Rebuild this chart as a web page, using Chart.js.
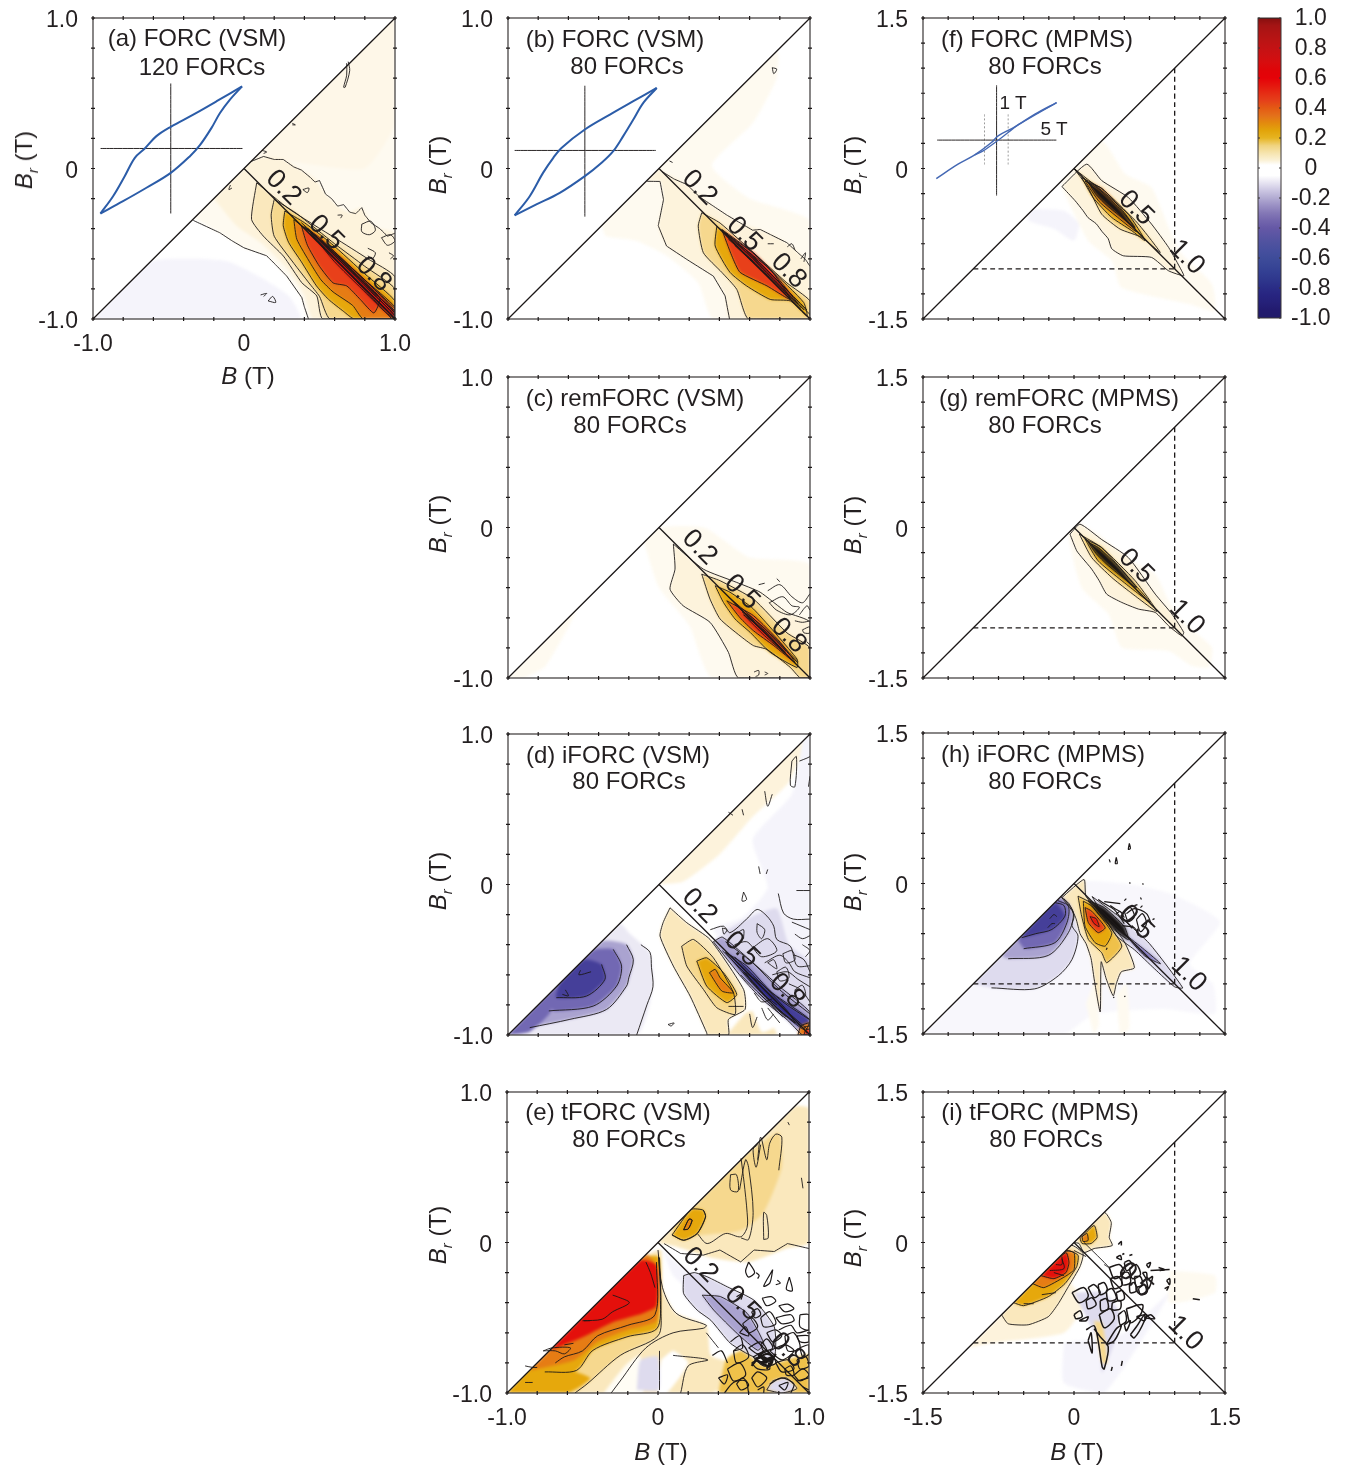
<!DOCTYPE html>
<html>
<head>
<meta charset="utf-8">
<title>FORC diagrams</title>
<script src="https://cdn.jsdelivr.net/npm/chart.js@4"></script>
<style>
  html, body { margin: 0; background: #fff; }
  #page { position: relative; width: 1345px; height: 1465px; overflow: hidden; font-family: "Liberation Sans", Arial, sans-serif; color: #231f20; }
  canvas { position: absolute; }
  canvas.soft { filter: blur(1.6px); clip-path: inset(18px 30px 50px 70px); }
  .txt { position: absolute; white-space: nowrap; transform: translate(-50%, -50%); font-size: 24px; line-height: 1; }
  .rot { transform: translate(-50%, -50%) rotate(-90deg); }
  .rot sub { font-size: 15px; line-height: 0; }
  .small { font-size: 19px; }
</style>
</head>
<body>
<div id="page"></div>
<script>
// colours
const cream0 = '#fefaf0', cream = '#fdf3dc', sand = '#fae8bd', wheat = '#f6d88e', amber = '#efc14a', gold = '#e6a80c';
const orange = '#e67c14', vermil = '#e8401a', red = '#e4100c', crimson = '#b81414', ink = '#161212';
const lav00 = '#f8f7fc', lav0 = '#f5f4fb', lavPale = '#ebe9f4', lav1 = '#dedbee', lav2 = '#aaa3d0', lav3 = '#7268b3', indigo = '#453f99', navy = '#2a2680';

// tick labels
const vsmLabels = { '-1': '-1.0', '0': '0', '1': '1.0' };
const mpmsLabels = { '-1.5': '-1.5', '0': '0', '1.5': '1.5' };
const barLabels = ['-1.0', '-0.8', '-0.6', '-0.4', '-0.2', '0', '0.2', '0.4', '0.6', '0.8', '1.0'];

// colour bar
const barStops = [-1, -0.95, -0.9, -0.85, -0.8, -0.75, -0.7, -0.65, -0.6, -0.55, -0.5, -0.45, -0.4, -0.35, -0.3, -0.25, -0.2, -0.15, -0.1, -0.05, 0.02, 0.05, 0.1, 0.15, 0.2, 0.25, 0.3, 0.35, 0.4, 0.45, 0.5, 0.55, 0.6, 0.65, 0.7, 0.75, 0.8, 0.85, 0.9, 0.95, 0.99, 1];
const barColors = ['#201a6a', '#221a6e', '#252078', '#272480', '#2a2c86', '#2e368c', '#323e92', '#384696', '#3e4c9a', '#464f9e', '#4f529f', '#5a55a3', '#6558a6', '#7366ad', '#8478b6', '#9a90c4', '#b2abd2', '#cbc6e2', '#e6e3f1', '#ffffff', '#ffffff', '#fbf2d8', '#f6e4ae', '#f0d37e', '#e6b421', '#e2a40a', '#e38a0e', '#e4701a', '#e45a14', '#e5401a', '#e52c14', '#e5160e', '#e50208', '#e00408', '#d80c0e', '#cd1012', '#c41214', '#ba1414', '#b01414', '#a41414', '#8c1010', '#4a0a0a'];

// panel a
const aLoopUp = [[-0.951, -0.299], [-0.867, -0.184], [-0.79, -0.051], [-0.723, 0.071], [-0.657, 0.133], [-0.58, 0.215], [-0.485, 0.277], [-0.336, 0.358], [-0.181, 0.447], [-0.013, 0.546]];
const aLoopDown = [[-0.013, 0.546], [-0.093, 0.458], [-0.159, 0.369], [-0.215, 0.27], [-0.292, 0.155], [-0.358, 0.082], [-0.485, -0.029], [-0.646, -0.128], [-0.801, -0.217], [-0.951, -0.299]];
const aCrossH = [[-0.95, 0.133], [-0.01, 0.133]];
const aCrossV = [[-0.485, -0.299], [-0.485, 0.565]];
const aPale = [[-0.33, -0.33], [0, 0], [1, 1], [1, -1], [0.43, -1], [0.38, -0.86], [0.28, -0.72], [0.15, -0.58], [0, -0.53], [-0.16, -0.43]];
const aVeil = [[0.1, 0.1], [0.6, 0.6], [1, 1], [1, 0.3], [0.8, 0.0], [0.3, 0.05]];
const aLav = [[-1, -1], [0.37, -1], [0.3, -0.85], [0.12, -0.73], [-0.1, -0.62], [-0.3, -0.6], [-0.62, -0.62]];
const aWarm = [[-0.2, -0.2], [0, 0], [0.03, 0.04], [0.13, 0.08], [0.26, 0.06], [0.38, -0.01], [0.47, -0.07], [0.54, -0.17], [0.62, -0.25], [0.7, -0.29], [0.78, -0.26], [0.84, -0.36], [0.9, -0.4], [1, -0.43], [1, -1], [0.46, -1], [0.4, -0.84], [0.28, -0.66], [0.12, -0.5], [-0.05, -0.38]];
const aTopLine = [[0.03, 0.04], [0.13, 0.08], [0.2, 0.06], [0.26, 0.06], [0.33, 0.01], [0.38, -0.01], [0.44, -0.06], [0.47, -0.09], [0.5, -0.08], [0.54, -0.17], [0.58, -0.2], [0.62, -0.25], [0.66, -0.24], [0.7, -0.29], [0.74, -0.3], [0.78, -0.26], [0.8, -0.31], [0.84, -0.36], [0.9, -0.4], [0.95, -0.45], [1, -0.43]];
const aLowLine = [[-0.336, -0.345], [-0.16, -0.427], [-0.08, -0.48], [0, -0.527], [0.15, -0.58], [0.21, -0.64], [0.283, -0.715], [0.383, -0.858], [0.4, -0.92], [0.427, -1]];
const aL2 = [[0.084, -0.095], [0.05, -0.338], [0.128, -0.449], [0.261, -0.582], [0.383, -0.759], [0.482, -0.847], [0.522, -1], [1, -1], [1, -0.72], [0.82, -0.6], [0.6, -0.46], [0.3, -0.27]];
const aL3 = [[0.2, -0.205], [0.18, -0.31], [0.2, -0.45], [0.33, -0.63], [0.43, -0.76], [0.5, -0.85], [0.57, -1], [1, -1], [1, -0.8], [0.8, -0.65], [0.6, -0.5], [0.35, -0.3]];
const aL4 = [[0.27, -0.283], [0.26, -0.38], [0.295, -0.49], [0.38, -0.62], [0.48, -0.78], [0.56, -0.87], [0.66, -0.95], [0.73, -1], [1, -1], [1, -0.88], [0.8, -0.7], [0.58, -0.5], [0.4, -0.36]];
const aL5 = [[0.33, -0.34], [0.35, -0.47], [0.44, -0.63], [0.51, -0.74], [0.59, -0.82], [0.72, -0.91], [0.79, -1], [1, -1], [1, -0.92], [0.8, -0.74], [0.55, -0.51]];
const aL6 = [[0.38, -0.38], [0.42, -0.51], [0.5, -0.65], [0.59, -0.76], [0.68, -0.78], [0.77, -0.87], [0.86, -0.96], [0.9, -0.86], [0.7, -0.66], [0.5, -0.47]];
const aCore1 = [[0.42, -0.4], [0.6, -0.62], [0.78, -0.8], [0.92, -0.94], [1, -1], [1, -0.95], [0.85, -0.79], [0.65, -0.6], [0.5, -0.46]];
const aRidge = [[[0.38, -0.36], [0.62, -0.58], [0.82, -0.76], [1, -0.93]], [[0.4, -0.385], [0.62, -0.6], [0.82, -0.785], [1, -0.95]], [[0.42, -0.395], [0.64, -0.62], [0.84, -0.82], [1, -0.97]], [[0.44, -0.43], [0.64, -0.635], [0.84, -0.835], [1, -0.99]], [[0.44, -0.44], [0.66, -0.66], [0.82, -0.83], [0.98, -1]], [[0.5, -0.475], [0.66, -0.625], [0.84, -0.8], [1, -0.96]], [[0.52, -0.49], [0.68, -0.65], [0.86, -0.83], [1, -0.98]], [[0.6, -0.565], [0.7, -0.665], [0.88, -0.85]]];
const aNoise = [
  [[0.69, 0.71], [0.7, 0.65], [0.67, 0.54], [0.66, 0.54], [0.68, 0.62], [0.68, 0.7]],
  [[0.32, 0.3], [0.34, 0.29], [0.32, 0.29]], [[0.12, 0.12], [0.15, 0.11], [0.13, 0.1]],
  [[0.39, -0.14], [0.43, -0.13], [0.42, -0.16], [0.39, -0.14]], [[0.62, -0.31], [0.65, -0.31], [0.64, -0.33]],
  [[0.78, -0.37], [0.84, -0.35], [0.87, -0.41], [0.83, -0.44], [0.78, -0.42], [0.78, -0.37]],
  [[0.91, -0.46], [0.97, -0.44], [1, -0.48], [0.95, -0.51], [0.91, -0.46]],
  [[0.82, -0.53], [0.87, -0.56], [0.85, -0.6], [0.82, -0.58]], [[0.96, -0.56], [0.99, -0.58], [0.97, -0.6]],
  [[0.11, -0.84], [0.15, -0.83], [0.13, -0.85]], [[0.16, -0.88], [0.19, -0.85], [0.21, -0.89], [0.16, -0.88]],
  [[-0.08, -0.13], [-0.1, -0.14], [-0.09, -0.11]]
];
const aMarks = [[0.26, -0.128, '0.2'], [0.544, -0.427, '0.5'], [0.858, -0.704, '0.8']];

// panel b
const bLoopUp = [[-0.956, -0.312], [-0.856, -0.184], [-0.768, -0.029], [-0.7, 0.071], [-0.646, 0.137], [-0.491, 0.259], [-0.325, 0.358], [-0.17, 0.447], [-0.015, 0.535]];
const bLoopDown = [[-0.015, 0.535], [-0.104, 0.436], [-0.17, 0.325], [-0.237, 0.215], [-0.303, 0.115], [-0.38, 0.038], [-0.491, -0.051], [-0.657, -0.162], [-0.812, -0.239], [-0.956, -0.312]];
const bCrossH = [[-0.956, 0.12], [-0.02, 0.12]];
const bCrossV = [[-0.491, -0.32], [-0.491, 0.55]];
const bPale = [[-0.38, -0.38], [0, 0], [0.78, 0.78], [0.78, 0.6], [0.62, 0.3], [0.35, 0.02], [0.6, -0.2], [1, -0.35], [1, -1], [0.36, -1], [0.26, -0.76], [0.05, -0.58], [-0.15, -0.48], [-0.35, -0.45]];
const bWarm = [[-0.08, -0.08], [0, 0], [0.02, -0.02], [0.184, -0.106], [0.36, -0.25], [0.54, -0.363], [0.67, -0.405], [0.847, -0.493], [0.97, -0.604], [1, -0.65], [1, -1], [0.467, -1], [0.438, -0.847], [0.36, -0.715], [0.184, -0.604], [0.05, -0.515], [-0.005, -0.38], [0.03, -0.207], [0.007, -0.086]];
const bTopLine = [[0.02, -0.02], [0.1, -0.07], [0.184, -0.106], [0.27, -0.19], [0.36, -0.25], [0.45, -0.31], [0.54, -0.363], [0.62, -0.41], [0.67, -0.405], [0.74, -0.44], [0.847, -0.493], [0.92, -0.56], [0.97, -0.604], [1, -0.65]];
const bLowLine = [[-0.08, -0.085], [0.007, -0.086], [0.03, -0.207], [-0.005, -0.38], [0.05, -0.515], [0.184, -0.604], [0.36, -0.715], [0.438, -0.847], [0.467, -1]];
const bL2 = [[0.283, -0.294], [0.26, -0.383], [0.294, -0.56], [0.416, -0.69], [0.515, -0.803], [0.593, -1], [1, -1], [1, -0.88], [0.847, -0.76], [0.626, -0.56], [0.405, -0.363]];
const bL3 = [[0.383, -0.383], [0.372, -0.515], [0.47, -0.69], [0.58, -0.78], [0.737, -0.87], [0.87, -0.88], [0.98, -0.98], [0.958, -0.89], [0.737, -0.67], [0.515, -0.493]];
const bL4 = [[0.416, -0.405], [0.482, -0.58], [0.537, -0.69], [0.715, -0.78], [0.87, -0.87], [0.76, -0.7], [0.626, -0.56]];
const bCore = [[0.44, -0.43], [0.6, -0.6], [0.75, -0.74], [0.92, -0.9], [0.78, -0.72], [0.62, -0.56]];
const bRidge = [[[0.42, -0.41], [0.62, -0.58], [0.8, -0.76], [0.98, -0.94]], [[0.44, -0.43], [0.62, -0.6], [0.8, -0.78], [0.96, -0.94]], [[0.46, -0.47], [0.64, -0.63], [0.82, -0.81], [0.94, -0.93]], [[0.5, -0.51], [0.66, -0.66], [0.84, -0.84], [1, -1]], [[0.52, -0.5], [0.7, -0.67], [0.86, -0.83], [1, -0.97]], [[0.58, -0.55], [0.72, -0.68], [0.86, -0.82]]];
const bNoise = [
  [[0.75, 0.67], [0.78, 0.66], [0.76, 0.63], [0.75, 0.67]], [[0.07, 0.05], [0.09, 0.04]],
  [[0.72, -0.5], [0.76, -0.5]], [[0.85, -0.52], [0.88, -0.5], [0.9, -0.54]], [[0.94, -0.6], [0.97, -0.56], [0.96, -0.62]]
];
const bMarks = [[0.268, -0.128, '0.2'], [0.564, -0.438, '0.5'], [0.858, -0.681, '0.8']];

// panel c
const cPale = [[-0.1, -0.1], [0, 0], [0.3, 0.0], [0.6, -0.2], [1, -0.25], [1, -1], [0.35, -1], [0.2, -0.65], [0, -0.4]];
const cSoft = [[-1, -1], [-0.55, -0.55], [-0.75, -0.92], [-0.9, -1]];
const cWarm = [[0.095, -0.11], [0.106, -0.277], [0.073, -0.41], [0.16, -0.52], [0.338, -0.63], [0.46, -0.83], [0.527, -1], [1, -1], [1, -0.63], [0.847, -0.564], [0.67, -0.43], [0.515, -0.365], [0.294, -0.277]];
const cL2 = [[0.283, -0.31], [0.338, -0.476], [0.405, -0.608], [0.537, -0.72], [0.626, -0.785], [0.715, -0.81], [0.87, -0.93], [0.936, -1], [1, -1], [1, -0.8], [0.847, -0.7], [0.626, -0.476], [0.405, -0.354]];
const cL3 = [[0.372, -0.387], [0.427, -0.498], [0.504, -0.608], [0.604, -0.697], [0.737, -0.83], [0.914, -0.93], [0.914, -0.874], [0.626, -0.542], [0.47, -0.43]];
const cL4 = [[0.449, -0.487], [0.537, -0.6], [0.626, -0.686], [0.76, -0.785], [0.9, -0.896], [0.803, -0.763], [0.626, -0.586]];
const cCore = [[0.56, -0.58], [0.7, -0.72], [0.84, -0.84], [0.7, -0.69]];
const cRidge = [[[0.46, -0.46], [0.62, -0.6], [0.8, -0.77], [0.92, -0.89]], [[0.5, -0.51], [0.64, -0.63], [0.82, -0.8], [0.92, -0.9]], [[0.55, -0.56], [0.68, -0.68], [0.84, -0.83]], [[0.58, -0.57], [0.7, -0.67], [0.84, -0.81]]];
const cNoise = [
  [[0.66, -0.38], [0.7, -0.37]], [[0.78, -0.34], [0.8, -0.36]], [[0.72, -0.42], [0.8, -0.38], [0.88, -0.46], [0.95, -0.5], [1, -0.44]],
  [[0.73, -0.5], [0.82, -0.46], [0.88, -0.52], [0.93, -0.53], [0.87, -0.58], [0.78, -0.55], [0.73, -0.5]],
  [[0.93, -0.58], [0.98, -0.52], [1, -0.55]], [[0.9, -0.62], [0.95, -0.63], [1, -0.62]], [[0.95, -0.68], [1, -0.66], [1, -0.7], [0.96, -0.7], [0.95, -0.68]],
  [[0.63, -0.96], [0.66, -0.95], [0.66, -0.98], [0.64, -0.99]], [[0.7, -0.96], [0.72, -0.97], [0.7, -0.98]], [[0.98, -0.76], [1, -0.78]]
];
const cMarks = [[0.268, -0.133, '0.2'], [0.549, -0.431, '0.5'], [0.858, -0.719, '0.8']];

// panel d
const dLav = [[-1, -1], [-0.26, -0.26], [-0.2, -0.32], [-0.06, -0.453], [-0.038, -0.675], [-0.148, -1]];
const dV1 = [[-1, -1], [-0.38, -0.38], [-0.215, -0.398], [-0.17, -0.498], [-0.215, -0.675], [-0.347, -0.83], [-0.59, -0.896], [-0.856, -0.951]];
const dV2 = [[-0.74, -0.74], [-0.44, -0.44], [-0.303, -0.431], [-0.248, -0.542], [-0.281, -0.675], [-0.436, -0.808], [-0.7, -0.84]];
const dV3 = [[-0.66, -0.66], [-0.5, -0.5], [-0.38, -0.531], [-0.358, -0.63], [-0.48, -0.741], [-0.68, -0.752]];
const dCorner = [[-1, -1], [-0.7, -0.7], [-0.72, -0.85], [-0.86, -0.98]];
const dUp = [[0, 0], [0.98, 0.98], [0.86, 0.68], [0.62, 0.45], [0.4, 0.2], [0.16, 0.02]];
const dRight = [[0.95, 0.95], [1, 1], [1, -0.85], [0.85, -0.72], [0.6, -0.55], [0.36, -0.3], [0.55, -0.22], [0.72, -0.02], [0.62, 0.3], [0.88, 0.6]];
const dRight2 = [[0.42, -0.32], [0.6, -0.22], [0.78, -0.16], [0.86, -0.4], [1, -0.52], [1, -0.86], [0.85, -0.75], [0.62, -0.6]];
const dY1 = [[0.073, -0.155], [0.027, -0.254], [0.007, -0.343], [0.095, -0.542], [0.206, -0.741], [0.316, -0.985], [0.32, -1], [0.46, -1], [0.46, -0.896], [0.57, -0.83], [0.56, -0.697], [0.338, -0.365], [0.184, -0.254]];
const dY2 = [[0.15, -0.41], [0.184, -0.542], [0.294, -0.697], [0.383, -0.819], [0.504, -0.863], [0.493, -0.719], [0.36, -0.487], [0.228, -0.365]];
const dY3 = [[0.25, -0.509], [0.316, -0.675], [0.449, -0.785], [0.515, -0.73], [0.427, -0.586], [0.316, -0.487]];
const dY4 = [[0.334, -0.586], [0.416, -0.708], [0.493, -0.719], [0.405, -0.62], [0.372, -0.564]];
const dLow = [[0.45, -1], [0.58, -0.85], [0.68, -0.85], [0.78, -1]];
const dHole = [[0.62, -0.84], [0.7, -0.83], [0.76, -0.95], [0.68, -0.98]];
const dB1 = [[0.36, -0.38], [0.55, -0.62], [0.68, -0.76], [0.85, -0.9], [0.95, -1], [1, -1], [1, -0.85], [0.8, -0.68], [0.6, -0.5], [0.42, -0.35]];
const dB2 = [[0.44, -0.45], [0.62, -0.66], [0.8, -0.84], [0.97, -0.97], [1, -0.9], [0.75, -0.72], [0.58, -0.54]];
const dB3 = [[0.56, -0.58], [0.72, -0.76], [0.9, -0.92], [0.85, -0.84], [0.68, -0.66]];
const dHot = [[0.92, -1], [0.94, -0.94], [1, -0.92], [1, -1]];
const dHot2 = [[0.96, -1], [0.97, -0.97], [1, -0.96], [1, -1]];
const dRidge = [[[0.42, -0.44], [0.6, -0.62], [0.78, -0.82], [0.95, -0.95]], [[0.46, -0.46], [0.62, -0.62], [0.8, -0.8], [0.98, -0.96]], [[0.5, -0.48], [0.66, -0.64], [0.82, -0.78], [1, -0.9]], [[0.54, -0.6], [0.68, -0.74], [0.84, -0.88]], [[0.56, -0.58], [0.68, -0.72], [0.78, -0.8]], [[0.44, -0.38], [0.62, -0.52], [0.8, -0.7], [1, -0.86]]];
const dNoise = [
  [[0.56, -0.05], [0.58, -0.1], [0.55, -0.11], [0.56, -0.05]],
  [[0.79, -0.06], [0.825, -0.19], [0.89, -0.23], [1, -0.23]], [[0.91, -0.04], [1, -0.04]],
  [[0.34, -0.3], [0.427, -0.277], [0.47, -0.32], [0.58, -0.23], [0.65, -0.166], [0.715, -0.21], [0.76, -0.277], [0.78, -0.365], [0.87, -0.41], [0.914, -0.54], [1, -0.54]],
  [[0.65, -0.26], [0.7, -0.3], [0.68, -0.36], [0.65, -0.32], [0.65, -0.26]], [[0.42, -0.29], [0.45, -0.3], [0.43, -0.33], [0.42, -0.29]],
  [[0.88, -0.25], [1, -0.3]], [[0.9, -0.33], [0.95, -0.36], [1, -0.34]], [[0.95, -0.4], [1, -0.44], [0.97, -0.48]], [[0.9, -0.47], [0.96, -0.5], [1, -0.58]],
  [[0.62, -0.42], [0.72, -0.36], [0.78, -0.44], [0.68, -0.48], [0.62, -0.42]], [[0.7, -0.52], [0.8, -0.47], [0.86, -0.52], [0.9, -0.58], [1, -0.62]],
  [[0.5, -0.4], [0.58, -0.38], [0.64, -0.44]], [[0.75, -0.6], [0.85, -0.58], [0.92, -0.63], [1, -0.68]], [[0.86, -0.66], [0.94, -0.7], [1, -0.78]],
  [[0.88, 0.82], [0.91, 0.85], [0.9, 0.65], [0.87, 0.66], [0.88, 0.82]], [[0.7, 0.62], [0.72, 0.52], [0.75, 0.6]], [[0.55, 0.5], [0.56, 0.46]], [[0.46, 0.48], [0.49, 0.46]], [[0.93, 0.82], [0.98, 0.84], [1, 0.85]], [[1, 0.72], [0.99, 0.65]],
  [[0.66, 0.12], [0.67, 0.07]], [[0.72, 0.1], [0.71, 0.07]], [[0.06, -0.93], [0.1, -0.92], [0.08, -0.94], [0.06, -0.93]], [[0.46, -0.81], [0.56, -0.81]], [[0.6, -0.86], [0.62, -0.95], [0.65, -0.88]], [[0.68, -0.82], [0.72, -0.9], [0.76, -0.86]], [[0.98, -0.99], [0.96, -0.95], [1, -0.94]],
  [[0.63, -0.72], [0.68, -0.78], [0.75, -0.76]], [[0.72, -0.82], [0.8, -0.92]], [[0.66, -0.72], [0.74, -0.8], [0.82, -0.88]],
  [[0.78, -0.58], [0.84, -0.55], [0.86, -0.62], [0.8, -0.64], [0.78, -0.58]], [[0.9, -0.7], [0.95, -0.67], [0.97, -0.74], [0.92, -0.76], [0.9, -0.7]], [[0.52, -0.32], [0.56, -0.3], [0.56, -0.36]], [[0.82, -0.46], [0.88, -0.44], [0.9, -0.5], [0.84, -0.52], [0.82, -0.46]], [[0.72, -0.52], [0.76, -0.5], [0.78, -0.56], [0.72, -0.52]]
];
const dLowLines = [
  [[-0.148, -1], [-0.08, -0.8], [-0.04, -0.68], [-0.05, -0.55], [-0.06, -0.45], [-0.12, -0.4]],
  [[-0.215, -0.4], [-0.17, -0.5], [-0.2, -0.62], [-0.215, -0.675], [-0.347, -0.83], [-0.59, -0.896], [-0.856, -0.951]],
  [[-0.303, -0.431], [-0.248, -0.542], [-0.281, -0.675], [-0.436, -0.808], [-0.73, -0.84]],
  [[-0.38, -0.531], [-0.358, -0.63], [-0.48, -0.741], [-0.68, -0.752]],
  [[-0.52, -0.57], [-0.53, -0.6], [-0.45, -0.58]], [[-0.62, -0.7], [-0.6, -0.74], [-0.64, -0.73]]
];
const dMarks = [[0.268, -0.144, '0.2'], [0.549, -0.431, '0.5'], [0.847, -0.708, '0.8']];

// panel e
const eUp = [[0, 0], [0.9, 0.9], [1, 0.89], [1, 0], [0.85, -0.04], [0.6, -0.13], [0.35, -0.1], [0.13, -0.03]];
const eUp2 = [[0.1, 0.1], [0.55, 0.55], [0.8, 0.73], [0.82, 0.5], [0.7, 0.2], [0.55, 0.08], [0.3, 0.05], [0.12, 0.03]];
const eUp3 = [[0.093, 0.05], [0.17, 0.015], [0.26, 0.06], [0.315, 0.17], [0.3, 0.215], [0.22, 0.22]];
const eUp4 = [[0.17, 0.085], [0.2, 0.09], [0.226, 0.149], [0.205, 0.155]];
const eZeroLine = [[0.04, -0.007], [0.15, -0.073], [0.3, -0.084], [0.41, -0.05], [0.548, -0.129], [0.636, -0.05], [0.77, -0.06], [0.858, -0.007], [1, -0.04]];
const eCream = [[-1, -1], [-0.1, -0.1], [0.02, -0.05], [0.03, -0.3], [0.12, -0.47], [0.32, -0.55], [0.35, -0.75], [0.5, -0.8], [0.6, -0.85], [0.35, -1]];
const eWhite1 = [[-0.36, -1], [-0.22, -0.82], [-0.12, -0.75], [-0.1, -1]];
const eWhite2 = [[0.02, -0.78], [0.1, -0.72], [0.2, -0.8], [0.06, -1], [0, -1]];
const eBack = [[-0.14, -0.98], [-0.117, -0.783], [0, -0.76], [0.004, -0.98]];
const eZone1 = [[-1, -1], [-0.55, -1], [-0.47, -0.94], [-0.25, -0.75], [0, -0.62], [0.02, -0.45], [0.01, -0.1], [-0.1, -0.1]];
const eZone2 = [[-0.9, -0.9], [-0.75, -0.86], [-0.54, -0.85], [-0.43, -0.716], [-0.206, -0.627], [-0.007, -0.572], [0.016, -0.36], [0.004, -0.095], [-0.1, -0.1]];
const eCorner = [[-1, -1], [-0.6, -1], [-0.45, -0.9], [-0.8, -0.8]];
const eZone3 = [[-0.85, -0.85], [-0.55, -0.78], [-0.4, -0.66], [-0.2, -0.58], [-0.01, -0.52], [0.01, -0.2], [-0.08, -0.08]];
const eZone4 = [[-0.72, -0.72], [-0.5, -0.63], [-0.3, -0.53], [-0.1, -0.47], [-0.01, -0.42], [-0.01, -0.15], [-0.12, -0.12]];
const eApex = [[0.03, -0.04], [0.1, -0.12], [0.22, -0.2], [0.2, -0.3], [0.1, -0.22]];
const eLav = [[0.17, -0.22], [0.17, -0.34], [0.26, -0.45], [0.35, -0.517], [0.48, -0.67], [0.636, -0.76], [0.77, -0.76], [0.77, -0.56], [0.636, -0.384], [0.46, -0.295], [0.326, -0.228], [0.24, -0.2]];
const eLav2 = [[0.293, -0.35], [0.37, -0.45], [0.525, -0.605], [0.66, -0.716], [0.7, -0.67], [0.59, -0.47], [0.415, -0.36]];
const eRightLow = [[0.4, -1], [0.45, -0.78], [0.55, -0.72], [0.7, -0.82], [0.85, -0.78], [1, -0.75], [1, -1]];
const eRightLow2 = [[0.72, -0.98], [0.76, -0.92], [0.85, -0.9], [0.92, -0.97], [0.82, -1]];
const eLines = [
  [[0.093, 0.05], [0.17, 0.015], [0.26, 0.06], [0.315, 0.17], [0.3, 0.215]], [[0.17, 0.085], [0.2, 0.09], [0.226, 0.149], [0.205, 0.155], [0.17, 0.085]],
  [[0.26, 0.06], [0.326, -0.007], [0.448, 0.06], [0.548, 0.038], [0.59, 0.1], [0.59, 0.2], [0.57, 0.4], [0.55, 0.56]], [[0.55, 0.03], [0.6, 0.02], [0.63, 0.2], [0.6, 0.5], [0.58, 0.55], [0.54, 0.35]],
  [[0.7, 0.02], [0.73, 0.03], [0.72, 0.18], [0.7, 0.2], [0.7, 0.02]], [[0.48, 0.45], [0.52, 0.45], [0.53, 0.34], [0.48, 0.35], [0.48, 0.45]],
  [[0.66, 0.55], [0.68, 0.7], [0.72, 0.55], [0.74, 0.66], [0.78, 0.72], [0.82, 0.7], [0.8, 0.48]], [[0.68, 0.65], [0.65, 0.5], [0.63, 0.62], [0.66, 0.65]], [[0.95, 0.43], [0.96, 0.36]], [[0.86, 0.8], [0.87, 0.78]],
  [[0, -0.05], [0.03, -0.3], [0.12, -0.47], [0.32, -0.55], [0.3, -0.57], [0.1, -0.6], [-0.08, -0.7], [-0.25, -0.92], [-0.31, -1]],
  [[0.01, -0.72], [0.01, -0.98]], [[0.1, -0.75], [0.33, -0.78], [0.2, -0.82], [0.15, -1]], [[0.32, -0.6], [0.4, -0.7]],
  [[-0.75, -0.86], [-0.54, -0.85], [-0.43, -0.716], [-0.206, -0.627], [-0.007, -0.572], [0.016, -0.36], [0.004, -0.095]],
  [[-0.55, -1], [-0.47, -0.94], [-0.25, -0.75], [0, -0.62], [0.02, -0.45], [0.01, -0.1]],
  [[-0.68, -0.8], [-0.62, -0.76], [-0.5, -0.72], [-0.4, -0.62], [-0.2, -0.55], [-0.02, -0.48], [-0.01, -0.13]],
  [[-0.5, -0.52], [-0.37, -0.51], [-0.3, -0.46], [-0.19, -0.4], [-0.27, -0.36], [-0.3, -0.35]], [[-0.08, -0.13], [-0.05, -0.2], [-0.02, -0.3]],
  [[-0.88, -0.82], [-0.83, -0.83], [-0.8, -0.83]], [[-0.76, -0.72], [-0.68, -0.72], [-0.62, -0.74], [-0.58, -0.7], [-0.7, -0.7], [-0.76, -0.72]], [[-0.62, -0.68], [-0.56, -0.67]], [[-0.49, -0.52], [-0.45, -0.52]], [[-0.88, -0.93], [-0.83, -0.93]]
];
const eNoise = [
  [[0.6, -0.13], [0.64, -0.2], [0.6, -0.23], [0.58, -0.19], [0.6, -0.13]], [[0.65, -0.2], [0.67, -0.22], [0.66, -0.24]], [[0.76, -0.18], [0.74, -0.27], [0.7, -0.29], [0.76, -0.18]], [[0.79, -0.25], [0.81, -0.27], [0.78, -0.28]],
  [[0.87, -0.23], [0.85, -0.31], [0.89, -0.32], [0.87, -0.23]], [[0.69, -0.37], [0.75, -0.36], [0.78, -0.39], [0.72, -0.42], [0.69, -0.37]], [[0.52, -0.36], [0.56, -0.34], [0.55, -0.38]],
  [[0.8, -0.42], [0.86, -0.41], [0.9, -0.44], [0.84, -0.46], [0.8, -0.42]], [[0.94, -0.48], [1, -0.48], [1, -0.58], [0.94, -0.56], [0.94, -0.48]], [[0.78, -0.5], [0.88, -0.48], [0.9, -0.52], [0.82, -0.54], [0.78, -0.5]],
  [[0.62, -0.46], [0.66, -0.44], [0.68, -0.48], [0.64, -0.5], [0.62, -0.46]], [[0.8, -0.58], [0.88, -0.55], [0.92, -0.6], [1, -0.58]], [[0.92, -0.62], [1, -0.62], [1, -0.66], [0.94, -0.66], [0.92, -0.62]],
  [[0.72, -0.6], [0.78, -0.58], [0.82, -0.62], [0.76, -0.66], [0.72, -0.6]], [[0.6, -0.7], [0.68, -0.66], [0.72, -0.72], [0.66, -0.74], [0.6, -0.7]], [[0.74, -0.72], [0.84, -0.68], [0.9, -0.72], [0.82, -0.78], [0.74, -0.72]],
  [[0.63, -0.76], [0.72, -0.72], [0.78, -0.8], [0.7, -0.82], [0.63, -0.76]], [[0.62, -0.8], [0.7, -0.76], [0.74, -0.84], [0.66, -0.84], [0.62, -0.8]], [[0.65, -0.78], [0.72, -0.8], [0.68, -0.74]],
  [[0.78, -0.8], [0.86, -0.78], [0.9, -0.84], [0.82, -0.86], [0.78, -0.8]], [[0.92, -0.78], [0.98, -0.76], [1, -0.82], [0.94, -0.84], [0.92, -0.78]],
  [[0.5, -0.72], [0.56, -0.68], [0.6, -0.76], [0.52, -0.8], [0.5, -0.72]], [[0.46, -0.84], [0.54, -0.8], [0.58, -0.88], [0.5, -0.92], [0.46, -0.84]], [[0.44, -1], [0.5, -0.93], [0.58, -0.92], [0.6, -1]],
  [[0.62, -0.9], [0.66, -0.86], [0.72, -0.9], [0.66, -0.96], [0.62, -0.9]], [[0.74, -0.94], [0.82, -0.9], [0.9, -0.94], [0.88, -1]], [[0.8, -0.95], [0.86, -0.93], [0.84, -0.98], [0.8, -0.95]], [[0.66, -0.98], [0.7, -0.96], [0.7, -1]],
  [[0.92, -0.92], [1, -0.9]], [[0.96, -0.96], [1, -0.98]], [[0.36, -0.75], [0.42, -0.72], [0.46, -0.8]], [[0.54, -0.6], [0.6, -0.62], [0.58, -0.56], [0.54, -0.6]],
  [[0.48, -0.66], [0.54, -0.62], [0.56, -0.7], [0.5, -0.72]], [[0.56, -0.54], [0.62, -0.5], [0.66, -0.56], [0.6, -0.6], [0.56, -0.54]], [[0.68, -0.5], [0.74, -0.46], [0.78, -0.54], [0.7, -0.56], [0.68, -0.5]], [[0.84, -0.62], [0.9, -0.6], [0.94, -0.7], [0.86, -0.72], [0.84, -0.62]],
  [[0.94, -0.7], [1, -0.68], [1, -0.74], [0.96, -0.76], [0.94, -0.7]], [[0.52, -0.94], [0.56, -0.9], [0.6, -0.95], [0.55, -0.98], [0.52, -0.94]], [[0.9, -0.88], [0.96, -0.84], [1, -0.88], [0.94, -0.92], [0.9, -0.88]], [[0.84, -0.84], [0.88, -0.82], [0.9, -0.88], [0.85, -0.88], [0.84, -0.84]],
  [[0.68, -0.68], [0.72, -0.64], [0.76, -0.7], [0.7, -0.72], [0.68, -0.68]], [[0.4, -0.9], [0.46, -0.88], [0.44, -0.94], [0.4, -0.9]]
];
const eBlack = [
  [[0.64, -0.78], [0.72, -0.74], [0.76, -0.76], [0.7, -0.8], [0.64, -0.78]], [[0.68, -0.8], [0.76, -0.76], [0.74, -0.82], [0.68, -0.8]], [[0.66, -0.74], [0.72, -0.8]], [[0.7, -0.76], [0.76, -0.8]], [[0.62, -0.82], [0.7, -0.72]], [[0.72, -0.84], [0.78, -0.74]]
];
const eMarks = [[0.28, -0.15, '0.2'], [0.558, -0.406, '0.5'], [0.858, -0.716, '0.8']];

// panel f
const fLoopUp = [[-1.368, -0.1], [-1.152, 0.043], [-0.986, 0.136], [-0.82, 0.259], [-0.754, 0.325], [-0.588, 0.415], [-0.388, 0.541], [-0.173, 0.657]];
const fLoopDown = [[-0.173, 0.657], [-0.554, 0.435], [-0.654, 0.359], [-0.754, 0.282], [-0.903, 0.176], [-0.986, 0.136]];
const fCrossH = [[-1.36, 0.283], [-0.175, 0.283]];
const fCrossV = [[-0.769, -0.27], [-0.769, 0.83]];
const fGuideL = [[-0.889, 0.04], [-0.889, 0.54]];
const fGuideR = [[-0.654, 0.04], [-0.654, 0.54]];
const fPale = [[-0.12, -0.12], [0.275, 0.275], [0.51, -0.056], [0.77, -0.19], [0.94, -0.59], [1.07, -0.85], [1.37, -1.15], [1.4, -1.42], [1.14, -1.35], [0.47, -1.185], [0.375, -0.92], [0.14, -0.72], [-0.12, -0.19]];
const fLav = [[-0.45, -0.4], [-0.1, -0.42], [0.05, -0.55], [0, -0.72], [-0.2, -0.6], [-0.45, -0.52]];
const fL1 = [[-0.12, -0.18], [0.01, -0.32], [0.09, -0.42], [0.14, -0.49], [0.22, -0.55], [0.28, -0.63], [0.34, -0.7], [0.375, -0.8], [0.49, -0.87], [0.77, -0.886], [0.94, -1.02], [1.09, -1.07], [1.07, -1.02], [0.94, -0.787], [0.77, -0.554], [0.54, -0.29], [0.275, -0.12], [0.126, 0.043]];
const fL2 = [[0, 0], [0.14, -0.19], [0.275, -0.455], [0.458, -0.604], [0.674, -0.687], [0.857, -0.837], [0.61, -0.52], [0.275, -0.22]];
const fL3 = [[0.076, -0.09], [0.19, -0.29], [0.375, -0.488], [0.574, -0.62], [0.707, -0.72], [0.54, -0.455], [0.275, -0.2]];
const fL4 = [[0.11, -0.125], [0.25, -0.33], [0.45, -0.5], [0.62, -0.63], [0.5, -0.44], [0.28, -0.2]];
const fCore = [[0.143, -0.14], [0.22, -0.26], [0.33, -0.37], [0.475, -0.488], [0.607, -0.587], [0.48, -0.43], [0.34, -0.29], [0.24, -0.2]];
const fDashH = [[-1, -1], [1, -1]];
const fDashV = [[1, -1], [1, 1]];
const fMarks = [[0.617, -0.395, '0.5'], [1.12, -0.886, '1.0']];

// panel g
const gPale = [[0.04, 0.03], [0.24, -0.066], [0.51, -0.3], [0.807, -0.465], [0.94, -0.73], [1.07, -0.93], [1.37, -1.195], [1.34, -1.394], [1.17, -1.378], [0.94, -1.23], [0.475, -1.195], [0.342, -0.863], [0.076, -0.6], [-0.056, -0.066]];
const gL1 = [[-0.04, -0.066], [0.027, -0.232], [0.08, -0.3], [0.176, -0.415], [0.25, -0.53], [0.325, -0.664], [0.475, -0.747], [0.64, -0.813], [0.807, -0.847], [0.94, -0.98], [1.07, -1.08], [1.09, -1.046], [0.973, -0.863], [0.807, -0.664], [0.54, -0.3], [0.275, -0.12], [0.06, 0.033]];
const gL2 = [[0.053, -0.066], [0.176, -0.3], [0.375, -0.498], [0.54, -0.63], [0.823, -0.837], [0.607, -0.53], [0.275, -0.2]];
const gL3 = [[0.11, -0.116], [0.24, -0.332], [0.475, -0.53], [0.757, -0.747], [0.54, -0.498], [0.275, -0.2]];
const gCore = [[0.143, -0.15], [0.22, -0.26], [0.33, -0.37], [0.475, -0.49], [0.62, -0.6], [0.48, -0.43], [0.34, -0.29], [0.24, -0.2]];
const gMarks = [[0.617, -0.388, '0.5'], [1.12, -0.896, '1.0']];

// panel h
const hPale = [[-1.5, -1.5], [-0.1, -1.5], [0.2, -1.3], [0.9, -1.25], [1.4, -1.3], [1.38, -1], [1.15, -0.8], [1.45, -0.38], [0.95, -0.1], [0.5, 0], [0, 0]];
const hV1 = [[-1, -1], [-0.82, -1.04], [-0.39, -1.05], [-0.156, -0.92], [-0.02, -0.757], [0.04, -0.525], [-0.02, -0.27], [-0.13, -0.13]];
const hV2 = [[-0.72, -0.72], [-0.654, -0.75], [-0.256, -0.717], [-0.056, -0.49], [-0.007, -0.29], [-0.12, -0.12]];
const hV3 = [[-0.56, -0.56], [-0.488, -0.65], [-0.19, -0.59], [-0.07, -0.39], [-0.056, -0.226], [-0.16, -0.16]];
const hV4 = [[-0.5, -0.5], [-0.52, -0.54], [-0.22, -0.458], [-0.09, -0.325], [-0.19, -0.19]];
const hY1 = [[-0.12, -0.14], [0.1, 0.04], [0.12, -0.13], [0.35, -0.38], [0.5, -0.58], [0.6, -0.84], [0.47, -0.88], [0.42, -1], [0.39, -1.12], [0.32, -0.95], [0.27, -0.78], [0.26, -1.28], [0.2, -0.95], [0.17, -0.75], [0.12, -0.6], [0.06, -0.5], [0.02, -0.35], [-0.05, -0.2]];
const hStreak = [[0.12, -1.2], [0.2, -1.0], [0.25, -1.4], [0.2, -1.5]];
const hStreak2 = [[0.42, -1.1], [0.52, -1.0], [0.55, -1.45], [0.46, -1.5]];
const hY2 = [[0.04, -0.126], [0.076, -0.325], [0.143, -0.558], [0.275, -0.69], [0.325, -0.79], [0.475, -0.624], [0.3, -0.35], [0.18, -0.2]];
const hY3 = [[0.093, -0.176], [0.11, -0.425], [0.21, -0.59], [0.31, -0.624], [0.375, -0.49], [0.176, -0.226]];
const hY4 = [[0.11, -0.24], [0.143, -0.39], [0.24, -0.49], [0.31, -0.44], [0.176, -0.276]];
const hY5 = [[0.16, -0.33], [0.2, -0.4], [0.25, -0.43], [0.22, -0.35]];
const hB1 = [[0.18, -0.13], [0.5, -0.37], [0.75, -0.6], [1.08, -1.04], [1, -1.03], [0.8, -0.85], [0.6, -0.66], [0.42, -0.52]];
const hB2 = [[0.5, -0.5], [0.7, -0.66], [0.86, -0.8], [0.7, -0.72]];
const hBlack = [[0.14, -0.17], [0.3, -0.24], [0.5, -0.43], [0.54, -0.56], [0.4, -0.46], [0.25, -0.31]];
const hNoise = [
  [[0.55, 0.4], [0.56, 0.35], [0.54, 0.34], [0.55, 0.4]], [[0.42, 0.26], [0.43, 0.2], [0.41, 0.2], [0.42, 0.26]], [[0.35, 0.24], [0.36, 0.21]], [[0.55, 0.01], [0.56, 0]], [[0.68, 0], [0.69, -0.01]],
  [[0.3, -0.18], [0.38, -0.19], [0.46, -0.2]], [[0.5, -0.17], [0.52, -0.15]], [[0.6, -0.22], [0.63, -0.21]], [[0.66, -0.24], [0.68, -0.22]], [[0.52, -0.3], [0.6, -0.25], [0.72, -0.3], [0.77, -0.41]],
  [[0.5, -0.28], [0.56, -0.24], [0.6, -0.33], [0.54, -0.38], [0.5, -0.28]], [[0.62, -0.36], [0.68, -0.3], [0.72, -0.4], [0.66, -0.48], [0.62, -0.36]], [[0.46, -0.32], [0.5, -0.36], [0.56, -0.42], [0.46, -0.32]],
  [[0.48, -0.42], [0.6, -0.44], [0.64, -0.52]], [[0.78, -0.36], [0.8, -0.35]], [[0.66, -0.14], [0.67, -0.16]], [[0.32, -0.66], [0.33, -0.64]], [[0.5, -1.13], [0.51, -1.12]], [[0.39, -1.14], [0.4, -1.13]],
  [[0.24, -0.16], [0.3, -0.2], [0.4, -0.26], [0.46, -0.34], [0.5, -0.4]], [[0.36, -0.22], [0.42, -0.26], [0.46, -0.28]], [[0.42, -0.3], [0.46, -0.28], [0.5, -0.34]]
];
const hLines = [
  [[-0.82, -1.04], [-0.39, -1.05], [-0.156, -0.92], [-0.02, -0.757], [0.04, -0.525], [-0.02, -0.42], [0.0, -0.33], [-0.02, -0.27], [-0.13, -0.13]],
  [[-0.654, -0.75], [-0.256, -0.717], [-0.056, -0.49], [-0.007, -0.29], [-0.1, -0.15]],
  [[-0.5, -0.65], [-0.19, -0.59], [-0.07, -0.39], [-0.056, -0.226], [-0.16, -0.17]],
  [[-0.52, -0.54], [-0.38, -0.5], [-0.22, -0.458], [-0.09, -0.325], [-0.1, -0.22], [-0.19, -0.19]],
  [[-0.26, -0.44], [-0.22, -0.4], [-0.19, -0.4]], [[-0.24, -0.35], [-0.2, -0.31], [-0.17, -0.33]]
];
const hMarks = [[0.617, -0.39, '0.5'], [1.138, -0.906, '1.0']];

// panel i
const iPale = [[-1.05, -1.05], [-0.8, -1], [-0.1, -0.9], [0.1, -0.6], [-0.1, -0.3], [0, 0], [-0.4, -0.4]];
const iLav = [[-0.1, -1], [0.5, -0.9], [0.95, -0.5], [0.3, -1.5], [-0.1, -1.4]];
const iStreak = [[0.95, -0.28], [1.4, -0.33], [1.4, -0.5], [0.95, -0.6]];
const iUp = [[0, 0], [0.3, 0.3], [0.37, 0.2], [0.35, 0.05], [0.38, -0.03], [0.2, -0.06], [0.1, -0.1], [0.05, -0.01]];
const iUp2 = [[0.06, 0.04], [0.2, 0.17], [0.23, 0.05], [0.17, -0.01], [0.08, -0.01]];
const iUp3 = [[0.08, 0.06], [0.13, 0.09], [0.14, 0.02], [0.09, 0.01]];
const iL1 = [[-0.72, -0.72], [-0.654, -0.81], [-0.455, -0.82], [-0.256, -0.74], [-0.156, -0.61], [-0.056, -0.44], [0.06, -0.24], [0.09, -0.11], [-0.03, -0.03]];
const iL2 = [[-0.6, -0.6], [-0.5, -0.63], [-0.256, -0.54], [-0.09, -0.41], [0.027, -0.24], [0.04, -0.126], [-0.08, -0.08]];
const iL3 = [[-0.41, -0.41], [-0.3, -0.45], [-0.09, -0.34], [0, -0.27], [0, -0.1], [-0.09, -0.09]];
const iL4 = [[-0.33, -0.33], [-0.2, -0.36], [-0.08, -0.3], [-0.05, -0.2], [-0.08, -0.1]];
const iCol = [[0, -0.5], [0.3, -0.5], [0.45, -0.7], [0.4, -1], [0.28, -1.3], [0.25, -1], [0.15, -0.8]];
const iColIn = [[0.2, -0.78], [0.28, -0.8], [0.33, -1.2], [0.28, -1.2]];
const iLines = [
  [[-0.5, -0.61], [-0.4, -0.61]], [[-0.32, -0.52], [-0.18, -0.5]], [[-0.24, -0.28], [-0.1, -0.26], [-0.12, -0.16]], [[-0.18, -0.22], [-0.12, -0.22], [-0.12, -0.14]], [[-0.2, -0.3], [-0.1, -0.33]],
  [[0.1, 0], [0.35, -0.25], [0.3, -0.22]], [[0, -0.08], [0.12, -0.14]]
];
const iNoise = [
  [[0.35, -0.25], [0.45, -0.22], [0.5, -0.3], [0.4, -0.36], [0.35, -0.25]], [[0.5, -0.2], [0.55, -0.18], [0.58, -0.24], [0.52, -0.28], [0.5, -0.2]], [[0.42, -0.15], [0.46, -0.13], [0.47, -0.17], [0.42, -0.15]],
  [[0.55, -0.26], [0.62, -0.22], [0.66, -0.32], [0.58, -0.36], [0.55, -0.26]], [[0.36, -0.36], [0.44, -0.34], [0.48, -0.42], [0.4, -0.46], [0.36, -0.36]], [[0.48, -0.3], [0.54, -0.3], [0.56, -0.4], [0.48, -0.42], [0.48, -0.3]],
  [[0.6, -0.34], [0.66, -0.34], [0.68, -0.42], [0.62, -0.44], [0.6, -0.34]], [[0.68, -0.3], [0.72, -0.3], [0.72, -0.36], [0.68, -0.3]], [[0.55, -0.42], [0.6, -0.4], [0.62, -0.48], [0.56, -0.5], [0.55, -0.42]], [[0.64, -0.46], [0.7, -0.42], [0.72, -0.5], [0.66, -0.52], [0.64, -0.46]],
  [[0.72, -0.38], [0.78, -0.34], [0.74, -0.46], [0.72, -0.38]], [[0.14, -0.45], [0.2, -0.42], [0.26, -0.5], [0.2, -0.55], [0.14, -0.45]], [[0.24, -0.42], [0.3, -0.4], [0.33, -0.48], [0.26, -0.52], [0.24, -0.42]], [[0.32, -0.48], [0.38, -0.46], [0.42, -0.56], [0.34, -0.58], [0.32, -0.48]],
  [[0.42, -0.5], [0.48, -0.48], [0.5, -0.56], [0.44, -0.58], [0.42, -0.5]], [[-0.02, -0.5], [0.1, -0.45], [0.14, -0.54], [0.05, -0.6], [-0.02, -0.5]], [[0.12, -0.58], [0.18, -0.55], [0.22, -0.62], [0.14, -0.66], [0.12, -0.58]], [[0.26, -0.58], [0.32, -0.56], [0.34, -0.66], [0.27, -0.68], [0.26, -0.58]],
  [[0.38, -0.6], [0.46, -0.58], [0.46, -0.66], [0.38, -0.67], [0.38, -0.6]], [[0.25, -0.72], [0.36, -0.66], [0.4, -0.76], [0.3, -0.85], [0.25, -0.72]], [[0, -0.72], [0.06, -0.68], [0.08, -0.74], [0.02, -0.76], [0, -0.72]], [[0.05, -0.78], [0.14, -0.74], [0.12, -0.78], [0.05, -0.78]],
  [[0.44, -0.72], [0.5, -0.68], [0.52, -0.78], [0.46, -0.82], [0.44, -0.72]], [[0.52, -0.66], [0.68, -0.62], [0.66, -0.72], [0.56, -0.8], [0.52, -0.66]], [[0.5, -0.82], [0.56, -0.78], [0.52, -0.88], [0.5, -0.82]], [[0.62, -0.74], [0.72, -0.72], [0.7, -0.78], [0.62, -0.74]],
  [[0.56, -0.92], [0.62, -0.84], [0.7, -0.72], [0.7, -0.78], [0.6, -0.95], [0.56, -0.92]], [[0.12, -0.87], [0.2, -0.83], [0.24, -0.98], [0.28, -1.24], [0.3, -1.26], [0.34, -1.04], [0.26, -0.94], [0.2, -0.86]], [[0.14, -0.98], [0.17, -0.9], [0.18, -1.1], [0.14, -0.98]], [[0.32, -1.02], [0.4, -0.98], [0.47, -0.83], [0.42, -0.86], [0.32, -1.02]],
  [[0.72, -0.22], [0.76, -0.2], [0.74, -0.25], [0.72, -0.22]], [[0.84, -0.25], [0.9, -0.27], [0.85, -0.28]], [[0.76, -0.28], [0.95, -0.27]], [[0.92, -0.38], [0.95, -0.36], [0.95, -0.42], [0.92, -0.38]], [[0.9, -0.46], [0.94, -0.44], [0.92, -0.48]], [[0.7, -0.75], [0.8, -0.76], [0.76, -0.72], [0.7, -0.75]],
  [[1.18, -0.56], [1.25, -0.57]], [[0.48, -0.12], [0.5, -0.11]], [[0.55, -0.13], [0.58, -0.12]], [[0.44, -0.02], [0.47, 0.01], [0.47, -0.03]], [[0.47, -1.23], [0.48, -1.18]], [[0.37, -1.28], [0.38, -1.24]]
];
const iMarks = [[0.607, -0.375, '0.5'], [1.105, -0.906, '1.0']];

// titles and axis captions, in page pixels
const titleText = ['(a) FORC (VSM)', '120 FORCs', '(b) FORC (VSM)', '80 FORCs', '(f) FORC (MPMS)', '80 FORCs', '(c) remFORC (VSM)', '80 FORCs', '(g) remFORC (MPMS)', '80 FORCs', '(d) iFORC (VSM)', '80 FORCs', '(h) iFORC (MPMS)', '80 FORCs', '(e) tFORC (VSM)', '80 FORCs', '(i) tFORC (MPMS)', '80 FORCs'];
const titleX = [197, 202, 615, 627, 1037, 1045, 635, 630, 1059, 1045, 618, 629, 1043, 1045, 618, 629, 1040, 1046];
const titleY = [38, 67, 39, 66, 39, 66, 398, 425, 398, 425, 755, 781, 754, 781, 1112, 1139, 1112, 1139];
const yCaptionX = [24, 438, 853, 438, 853, 438, 853, 438, 853];
const yCaptionY = [160, 165, 165, 524, 525, 881, 882, 1235, 1238];
const xCaptionX = [248, 661, 1077];
const xCaptionY = [376, 1452, 1452];

const LINE = '#1c1818';
const toXY = pts => pts.map(p => ({ x: p[0], y: p[1] }));

function line(pts, color, width, dash, tension) {
    return {
        data: toXY(pts), showLine: true, pointRadius: 0, tension: tension || 0.0001, fill: false,
        borderColor: color || LINE, borderWidth: width || 0.9, borderDash: dash || []
    };
}
// closed filled shape, the outline goes to the sharp top layer
function shape(pts, color, outlined) {
    const closed = pts.concat([pts[0]]);
    return {
        data: toXY(closed), showLine: true, pointRadius: 0, tension: 0.18,
        fill: 'shape', backgroundColor: color, borderColor: color, borderWidth: 0,
        outline: outlined ? line(closed, LINE, 0.9, [], 0.18) : null
    };
}
const smooth = (pts, color, width) => line(pts, color || '#2b5ca8', width || 2, [], 0.35);
const lines = (list, width) => list.map(l => line(l, LINE, width || 0.9, [], 0.3));

// draws frame, four sided ticks and the contour numbers from the chart's scales
const framePlugin = {
    id: 'frame',
    afterDatasetsDraw(chart, args, opts) {
        const { ctx, chartArea: a, scales: { x, y } } = chart;
        ctx.save();
        ctx.strokeStyle = '#3a3636';
        ctx.lineWidth = 1.2;
        ctx.strokeRect(a.left, a.top, a.right - a.left, a.bottom - a.top);
        ctx.strokeStyle = '#1c1818';
        ctx.beginPath();
        x.ticks.forEach(t => {
            const px = x.getPixelForValue(t.value);
            ctx.moveTo(px, a.top - 2); ctx.lineTo(px, a.top + 2);
            ctx.moveTo(px, a.bottom - 2); ctx.lineTo(px, a.bottom + 2);
        });
        y.ticks.forEach(t => {
            const py = y.getPixelForValue(t.value);
            ctx.moveTo(a.left - 2, py); ctx.lineTo(a.left + 2, py);
            ctx.moveTo(a.right - 2, py); ctx.lineTo(a.right + 2, py);
        });
        ctx.stroke();
        ctx.fillStyle = '#231f20';
        ctx.font = '27px "Liberation Sans"';
        ctx.textAlign = 'center';
        ctx.textBaseline = 'middle';
        (opts.marks || []).forEach(m => {
            ctx.save();
            ctx.translate(x.getPixelForValue(m[0]), y.getPixelForValue(m[1]));
            ctx.rotate(Math.PI / 4);
            ctx.fillText(m[2], 0, 0);
            ctx.restore();
        });
        ctx.restore();
    }
};

const page = document.getElementById('page');
const fixedY = s => { s.width = 70; s.paddingTop = 0; s.paddingBottom = 0; };
const fixedX = s => { s.height = 50; s.paddingLeft = 0; s.paddingRight = 0; };

function panelCanvas(left, top, cls) {
    const canvas = document.createElement('canvas');
    canvas.width = 402; canvas.height = 369;
    canvas.style.left = (left - 70) + 'px';
    canvas.style.top = (top - 18) + 'px';
    if (cls) canvas.className = cls;
    page.appendChild(canvas);
    return canvas;
}

function addPanel(left, top, lim, stepSize, labels, showX, layers, overlay, marks) {
    const tickFont = { family: 'Liberation Sans', size: 23 };
    const baseOptions = (withLabels, pluginOpts) => ({
        responsive: false, animation: false, events: [],
        layout: { autoPadding: false, padding: { top: 18, right: 30 } },
        plugins: Object.assign({ legend: { display: false }, tooltip: { enabled: false } }, pluginOpts),
        scales: {
            x: {
                type: 'linear', min: -lim, max: lim, afterFit: fixedX,
                grid: { display: false, drawTicks: false }, border: { display: false },
                ticks: { display: withLabels && showX, stepSize, autoSkip: false, maxRotation: 0, padding: 12, color: '#231f20', font: tickFont, callback: v => labels[v] || '' }
            },
            y: {
                type: 'linear', min: -lim, max: lim, afterFit: fixedY,
                grid: { display: false, drawTicks: false }, border: { display: false },
                ticks: { display: withLabels, stepSize, autoSkip: false, padding: 15, labelOffset: 3, color: '#231f20', font: tickFont, callback: v => labels[v] || '' }
            }
        }
    });

    // soft colour fields underneath, datasets are painted last to first
    const fills = layers.filter(l => l.fill === 'shape');
    new Chart(panelCanvas(left, top, 'soft'), {
        type: 'scatter',
        data: { datasets: fills.slice().reverse() },
        options: baseOptions(false, {})
    });

    // white triangle, contour lines, guides and inset on top
    const mask = shape([[-lim, -lim], [lim, lim], [-lim, lim]], '#ffffff', false);
    mask.tension = 0.0001;
    const contours = layers.map(l => l.fill === 'shape' ? l.outline : l).filter(Boolean);
    const guide = [line([[-lim, -lim], [lim, lim]], LINE, 1.3), line([[0, 0], [lim, -lim]], LINE, 1.3)];
    const painted = contours.concat([mask], guide, overlay);
    new Chart(panelCanvas(left, top), {
        type: 'scatter',
        data: { datasets: painted.reverse() },
        plugins: [framePlugin],
        options: baseOptions(true, { frame: { marks } })
    });
}

const cross = (h, v) => [line(h, '#2a2626', 1), line(v, '#2a2626', 1)];
const dash = pts => line(pts, LINE, 1.3, [5, 3.5]);

// panel a
addPanel(93, 18, 1, 0.2, vsmLabels, true, [
    shape(aPale, cream0), shape(aVeil, '#fef7e8'), shape(aLav, lav0), shape(aWarm, cream),
    shape(aL2, sand, true), shape(aL3, wheat, true), shape(aL4, gold, true), shape(aL5, orange, true), shape(aL6, vermil, true),
    shape(aCore1, red, true),
    line(aTopLine), line(aLowLine), ...lines(aRidge)
], [...lines(aNoise), ...cross(aCrossH, aCrossV), smooth(aLoopUp), smooth(aLoopDown)], aMarks);

// panel b
addPanel(508, 18, 1, 0.2, vsmLabels, false, [
    shape(bPale, cream0), shape(bWarm, cream),
    shape(bL2, wheat, true), shape(bL3, gold, true), shape(bL4, vermil, true), shape(bCore, red, true),
    line(bTopLine), line(bLowLine), ...lines(bRidge)
], [...lines(bNoise), ...cross(bCrossH, bCrossV), smooth(bLoopUp), smooth(bLoopDown)], bMarks);

// panel c
addPanel(508, 377, 1, 0.2, vsmLabels, false, [
    shape(cSoft, cream0), shape(cPale, cream0), shape(cWarm, cream, true),
    shape(cL2, wheat, true), shape(cL3, gold, true), shape(cL4, vermil, true), shape(cCore, red, true), ...lines(cRidge)
], lines(cNoise), cMarks);

// panel d
addPanel(508, 734, 1, 0.2, vsmLabels, false, [
    shape(dUp, cream), shape(dRight, lav0), shape(dRight2, lav1), shape(dLav, lavPale), shape(dV1, lav2), shape(dV2, lav3), shape(dV3, indigo), shape(dCorner, lav3),
    shape(dY1, sand, true), shape(dLow, sand), shape(dHole, '#ffffff'), shape(dY2, wheat, true), shape(dY3, gold, true), shape(dY4, orange, true),
    shape(dB1, lav2, true), shape(dB2, indigo, true), shape(dB3, navy, true), shape(dHot, orange, true), shape(dHot2, red, true), ...lines(dRidge)
], [...lines(dLowLines), ...lines(dNoise)], dMarks);

// panel e
addPanel(507, 1092, 1, 0.2, vsmLabels, true, [
    shape(eUp, sand), shape(eUp2, wheat), shape(eUp3, gold, true), shape(eUp4, orange, true), shape(eCream, sand), shape(eWhite1, '#fffdf5'), shape(eWhite2, '#ffffff'), shape(eBack, lav1),
    shape(eZone1, wheat), shape(eZone2, gold), shape(eCorner, gold), shape(eZone3, orange), shape(eZone4, red),
    shape(eApex, lav0), shape(eLav, lav1, true), shape(eLav2, lav2, true), shape(eRightLow, amber), shape(eRightLow2, lav1, true),
    line(eZeroLine)
], [...lines(eLines), ...lines(eNoise, 1.2), ...lines(eBlack, 2.2)], eMarks);

// panel f
addPanel(923, 18, 1.5, 0.25, mpmsLabels, false, [
    shape(fLav, lav0), shape(fPale, cream0), shape(fL1, cream, true), shape(fL2, wheat, true), shape(fL3, gold, true), shape(fL4, orange, true), shape(fCore, ink, true)
], [dash(fDashH), dash(fDashV), line(fGuideL, '#9a9a9a', 1, [2, 2]), line(fGuideR, '#9a9a9a', 1, [2, 2]), ...cross(fCrossH, fCrossV), smooth(fLoopUp, '#4468b4', 1.5), smooth(fLoopDown, '#4468b4', 1.3)], fMarks);

// panel g
addPanel(923, 377, 1.5, 0.25, mpmsLabels, false, [
    shape(gPale, cream0), shape(gL1, cream, true), shape(gL2, wheat, true), shape(gL3, gold, true), shape(gCore, ink, true)
], [dash(fDashH), dash(fDashV)], gMarks);

// panel h
addPanel(923, 733, 1.5, 0.25, mpmsLabels, false, [
    shape(hPale, lav00), shape(hStreak, cream0), shape(hStreak2, cream0), shape(hV1, lav1), shape(hV2, lav2), shape(hV3, lav3), shape(hV4, indigo),
    shape(hY1, sand, true), shape(hY2, amber, true), shape(hY3, gold, true), shape(hY4, vermil, true), shape(hY5, red, true),
    shape(hB1, lav1, true), shape(hB2, lav3, true), shape(hBlack, ink, true)
], [...lines(hLines), ...lines(hNoise, 1.2), dash(fDashH), dash(fDashV)], hMarks);

// panel i
addPanel(923, 1092, 1.5, 0.25, mpmsLabels, true, [
    shape(iLav, lav0), shape(iStreak, cream0), shape(iPale, cream), shape(iUp, sand, true), shape(iUp2, gold, true), shape(iUp3, orange, true),
    shape(iL1, sand, true), shape(iL2, gold, true), shape(iL3, orange, true), shape(iL4, red, true), shape(iCol, lav1), shape(iColIn, wheat), ...lines(iLines)
], [...lines(iNoise, 1.5), dash(fDashH), dash(fDashV)], iMarks);

// colour bar, a single floating bar filled with the stops above
(function () {
    const canvas = document.createElement('canvas');
    canvas.width = 90; canvas.height = 330;
    canvas.style.left = '1255px';
    canvas.style.top = '8px';
    page.appendChild(canvas);
    new Chart(canvas, {
        type: 'bar',
        data: {
            labels: [''],
            datasets: [{
                data: [[-1, 1]], borderWidth: 0, barPercentage: 1, categoryPercentage: 1,
                backgroundColor(c) {
                    const y = c.chart.scales.y;
                    const y0 = y.getPixelForValue(-1), y1 = y.getPixelForValue(1);
                    // the scale has no size yet on the very first pass
                    if (!isFinite(y0) || !isFinite(y1)) return barColors[0];
                    const g = c.chart.ctx.createLinearGradient(0, y0, 0, y1);
                    barStops.forEach((s, i) => g.addColorStop((s + 1) / 2, barColors[i]));
                    return g;
                }
            }]
        },
        plugins: [{
            id: 'barFrame',
            afterDatasetsDraw(chart) {
                const { ctx, chartArea: a, scales: { y } } = chart;
                ctx.save();
                ctx.strokeStyle = '#3a3636';
                ctx.lineWidth = 1;
                ctx.strokeRect(a.left, a.top, a.right - a.left, a.bottom - a.top);
                ctx.beginPath();
                y.ticks.forEach(t => {
                    const py = y.getPixelForValue(t.value);
                    ctx.moveTo(a.right - 2, py); ctx.lineTo(a.right, py);
                    ctx.moveTo(a.left, py); ctx.lineTo(a.left + 2, py);
                });
                ctx.stroke();
                ctx.restore();
            }
        }],
        options: {
            responsive: false, animation: false, events: [],
            layout: { autoPadding: false, padding: { top: 10, bottom: 20, left: 3 } },
            plugins: { legend: { display: false }, tooltip: { enabled: false } },
            scales: {
                x: { display: false },
                y: {
                    position: 'right', min: -1, max: 1, afterFit: s => { s.width = 64; s.paddingTop = 0; s.paddingBottom = 0; },
                    grid: { display: false, drawTicks: false }, border: { display: false },
                    ticks: { stepSize: 0.2, autoSkip: false, padding: 10, labelOffset: 1, crossAlign: 'center', color: '#231f20', font: { family: 'Liberation Sans', size: 23 }, callback: (v, i) => barLabels[i] }
                }
            }
        }
    });
})();

// real text for the captions
function addText(html, x, y, cls) {
    const el = document.createElement('div');
    el.className = 'txt ' + (cls || '');
    el.innerHTML = html;
    el.style.left = x + 'px';
    el.style.top = y + 'px';
    page.appendChild(el);
}
titleText.forEach((t, i) => addText(t, titleX[i], titleY[i]));
yCaptionX.forEach((x, i) => addText('<i>B<sub>r</sub></i> (T)', x, yCaptionY[i], 'rot'));
xCaptionX.forEach((x, i) => addText('<i>B</i> (T)', x, xCaptionY[i]));
addText('1 T', 1013, 102, 'small');
addText('5 T', 1054, 128, 'small');
</script>
</body>
</html>
